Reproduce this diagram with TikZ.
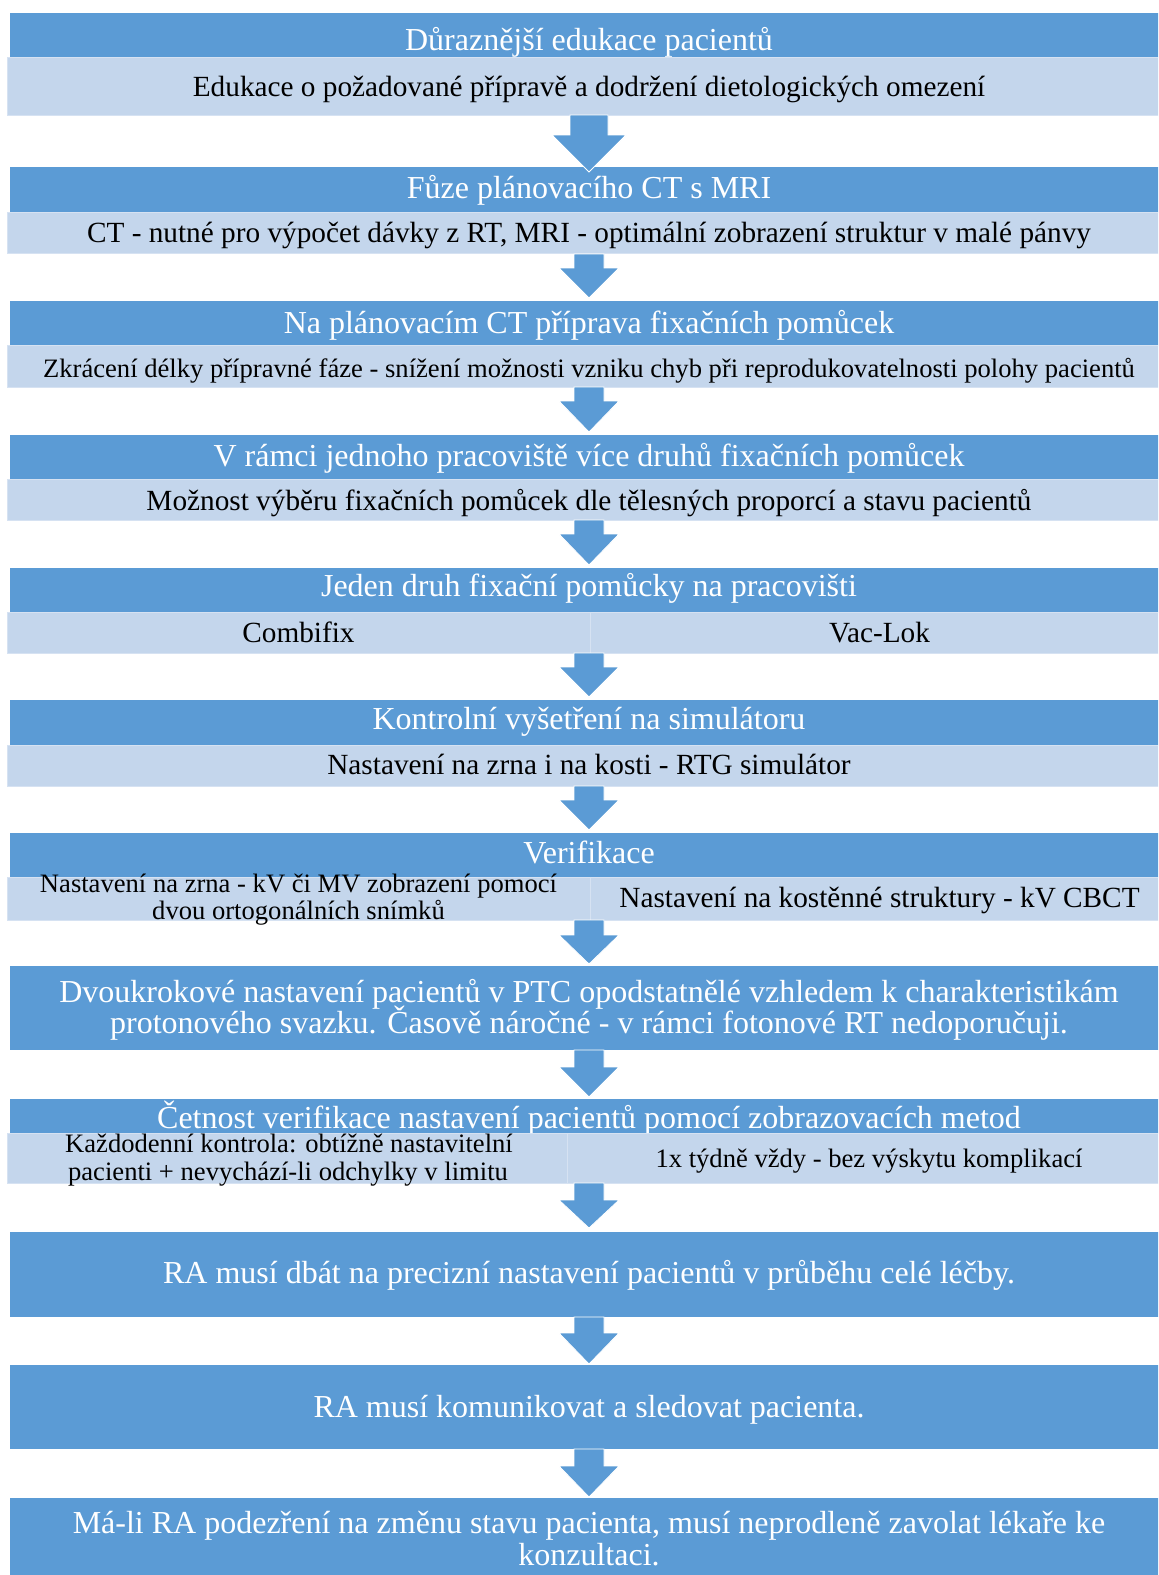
\documentclass[tikz,border=0pt]{standalone}
\usepackage{fontspec}
\setmainfont{Liberation Serif}
\definecolor{dk}{HTML}{5B9BD5}
\definecolor{lt}{HTML}{C4D6EC}
\definecolor{ltb}{HTML}{D6E2F2}
\newcommand\barrow[5]{\draw[arr] ({589-#4},#1) -- ({589+#4},#1) -- ({589+#4},#2) -- ({589+#5},#2) -- (589,#3) -- ({589-#5},#2) -- ({589-#4},#2) -- cycle;}
\begin{document}
\begin{tikzpicture}[x=0.75pt,y=-0.75pt,
  hd/.style={text=white, font=\fontsize{24}{25}\selectfont, anchor=base, inner sep=0pt},
  bd/.style={text=black, font=\fontsize{21.95}{23}\selectfont, anchor=base, inner sep=0pt},
  sm/.style={text=black, font=\fontsize{19.95}{21}\selectfont, anchor=base, inner sep=0pt},
  dkbox/.style={fill=dk},
  ltbox/.style={fill=lt, draw=ltb, line width=0.75pt},
  arr/.style={fill=dk, draw=white, line width=0.6pt}]
\useasboundingbox (0,0) rectangle (1158,1575);
\clip (0,0) rectangle (1158,1575);
\fill[white] (0,0) rectangle (1158,1575);
% dark header boxes
\path[dkbox] (9.5,13) rectangle (1169,57);
\path[dkbox] (9.5,167) rectangle (1169,212);
\path[dkbox] (9.5,301) rectangle (1169,345);
\path[dkbox] (9.5,435) rectangle (1169,479);
\path[dkbox] (9.5,568) rectangle (1169,612);
\path[dkbox] (9.5,700) rectangle (1169,745);
\path[dkbox] (9.5,833) rectangle (1169,877);
\path[dkbox] (9.5,966) rectangle (1169,1050);
\path[dkbox] (9.5,1099) rectangle (1169,1133);
\path[dkbox] (9.5,1232) rectangle (1169,1317);
\path[dkbox] (9.5,1365) rectangle (1169,1449);
\path[dkbox] (9.5,1498) rectangle (1169,1600);
% header texts
\node[hd] (h1) at (589,50) {Důraznější edukace pacientů};
\node[hd] (h2) at (589,198) {Fůze plánovacího CT s MRI};
\node[hd] (h3) at (589,333) {Na plánovacím CT příprava fixačních pomůcek};
\node[hd] (h4) at (589,466) {V rámci jednoho pracoviště více druhů fixačních pomůcek};
\node[hd] (h5) at (589,596) {Jeden druh fixační pomůcky na pracovišti};
\node[hd] (h6) at (589,729) {Kontrolní vyšetření na simulátoru};
\node[hd] (h7) at (589,863) {Verifikace};
\node[hd] (h8a) at (589,1002) {Dvoukrokové nastavení pacientů v PTC opodstatnělé vzhledem k charakteristikám};
\node[hd] (h8b) at (589,1033) {protonového svazku. Časově náročné - v rámci fotonové RT nedoporučuji.};
\node[hd] (h9) at (589,1128) {Četnost verifikace nastavení pacientů pomocí zobrazovacích metod};
\node[hd] (h10) at (589,1283) {RA musí dbát na precizní nastavení pacientů v průběhu celé léčby.};
\node[hd] (h11) at (589,1417) {RA musí komunikovat a sledovat pacienta.};
\node[hd] (h12a) at (589,1533) {Má-li RA podezření na změnu stavu pacienta, musí neprodleně zavolat lékaře ke};
\node[hd] (h12b) at (589,1565) {konzultaci.};
% light bars
\path[ltbox] (7,57) rectangle (1169,115);
\path[ltbox] (7,212) rectangle (1169,253);
\path[ltbox] (7,345) rectangle (1169,387);
\path[ltbox] (7,479) rectangle (1169,520);
\path[ltbox] (7,612) rectangle (590,653);
\path[ltbox] (590,612) rectangle (1169,653);
\path[ltbox] (7,745) rectangle (1169,786);
\path[ltbox] (7,877) rectangle (590,920);
\path[ltbox] (590,877) rectangle (1169,920);
\path[ltbox] (7,1133) rectangle (567,1183);
\path[ltbox] (567,1133) rectangle (1169,1183);
% body texts
\node[bd] (b1) at (589,96) {Edukace o požadované přípravě a dodržení dietologických omezení};
\node[bd] (b2) at (589,242) {CT - nutné pro výpočet dávky z RT, MRI - optimální zobrazení struktur v malé pánvy};
\node[sm] (b3) at (589,377) {Zkrácení délky přípravné fáze - snížení možnosti vzniku chyb při reprodukovatelnosti polohy pacientů};
\node[bd] (b4) at (589,510) {Možnost výběru fixačních pomůcek dle tělesných proporcí a stavu pacientů};
\node[bd] (b5l) at (298.5,642) {Combifix};
\node[bd] (b5r) at (879.5,642) {Vac-Lok};
\node[bd] (b6) at (589,774) {Nastavení na zrna i na kosti - RTG simulátor};
\node[sm] (b7la) at (298.5,892) {Nastavení na zrna - kV či MV zobrazení pomocí};
\node[sm] (b7lb) at (298.5,919) {dvou ortogonálních snímků};
\node[bd] (b7r) at (879.5,907) {Nastavení na kostěnné struktury - kV CBCT};
\node[sm] (b9la) at (289,1152) {Každodenní kontrola: obtížně nastavitelní};
\node[sm] (b9lb) at (288,1180) {pacienti + nevychází-li odchylky v limitu};
\node[sm] (b9r) at (869,1167) {1x týdně vždy - bez výskytu komplikací};
% block arrows
\barrow{115}{135}{172}{19}{37}
\barrow{254}{268}{298}{15}{30}
\barrow{387}{401}{432}{15}{30}
\barrow{520}{534}{565}{15}{30}
\barrow{653}{667}{697}{15}{30}
\barrow{786}{800}{830}{15}{30}
\barrow{920}{935}{964}{15}{30}
\barrow{1050}{1067}{1097}{15}{30}
\barrow{1183}{1200}{1228}{15}{30}
\barrow{1317}{1333}{1364}{15}{30}
\barrow{1449}{1466}{1497}{15}{30}
\end{tikzpicture}
\end{document}
